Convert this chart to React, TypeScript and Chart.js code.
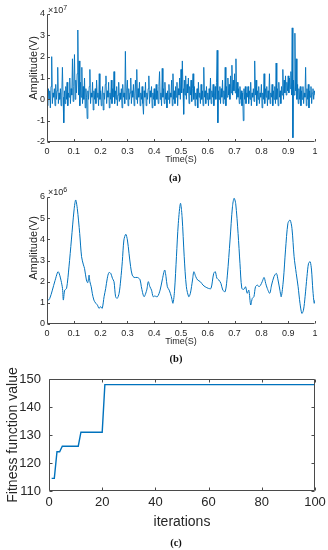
import React, { useEffect, useRef } from "react";
import { Chart, registerables } from "chart.js";

Chart.register(...registerables);

const BLUE = "#0072BD";
const AXIS = "#4a4a4a";
const TEXT = "#262626";
const SANS = "'Liberation Sans', Arial, Helvetica, sans-serif";
const SERIF = "'Liberation Serif', 'Times New Roman', serif";

// ---------- (a) raw vibration signal, amplitude in units of 1e7 V, sampled every 0.0025 s ----------
const sampleStepA = 0.0025;
const amplitudeA = [
  0.3, -0.3, 0.5, 0.0, 0.4, -0.4, 0.6, 2.0, -0.2, 0.3, 0.1, 0.5, -0.3, 0.7, 0.0, 0.4, 1.5, -0.2, 0.3, 0.0,
  0.5, -0.3, 0.2, 1.5, 0.1, -1.1, 0.4, -0.2, 0.6, 0.0, 0.8, -0.3, 0.3, 0.1, 1.0, -0.2, 0.5, 0.2, 1.9, -0.1,
  0.6, 2.1, 0.0, 0.9, 0.3, 1.2, 3.25, 0.2, 1.8, -0.3, 0.8, 0.1, 1.5, -0.2, 0.6, 0.0, 1.0, -0.4, 0.5, 0.1,
  -0.9, 0.4, 0.0, 0.6, 1.4, -0.2, 0.3, 0.1, 0.8, -0.5, 0.4, 0.0, 0.5, -0.2, 0.9, 0.1, 0.3, -0.3, 1.2, 0.0,
  0.4, -0.3, 0.2, 0.6, -0.5, 0.3, 0.0, 0.7, 1.1, -0.2, 0.4, 0.1, 0.8, -0.4, 0.3, 0.0, 0.9, -0.2, 0.5, 0.1,
  1.3, -0.2, 0.4, 0.0, 0.6, -0.3, 0.2, 0.8, -0.1, 0.3, 0.0, 0.5, -0.4, 0.7, 0.1, 0.3, -0.2, 2.25, 0.0, 0.4,
  0.9, -0.3, 0.5, 0.0, 0.3, 1.0, -0.2, 0.4, 0.1, 0.7, -0.3, 0.2, 0.9, 0.0, 1.4, -0.2, 0.5, 0.1, 0.8, -0.3,
  0.3, 0.0, 0.6, -0.2, -0.7, 0.4, 0.1, 0.8, -0.3, 0.3, 0.0, 0.5, 1.1, -0.2, 0.4, 0.1, 0.6, -0.4, 0.3, 0.0,
  0.5, -0.3, 0.2, 0.7, 0.0, 0.4, -0.2, 0.6, 1.3, 0.0, 0.3, -0.3, 1.45, 0.1, 0.5, -0.2, 0.8, 0.0, 0.3, -0.4,
  0.4, 0.0, 0.7, -0.2, 0.3, 0.1, 0.9, -0.3, 1.2, 0.0, 0.4, -0.2, 0.6, 0.1, 0.8, -0.3, 0.5, 0.2, 1.0, 0.0,
  1.4, 0.3, 1.8, 0.5, -0.7, 0.9, 0.2, 1.1, 0.0, 0.7, 0.3, 1.0, -0.2, 0.6, 0.2, 0.9, -0.1, 0.5, 1.2, 0.0,
  0.6, -0.3, 0.3, 0.0, 0.5, -0.4, 0.8, 0.1, 0.3, -0.2, 0.7, 0.0, 0.4, -0.3, 1.5, 0.1, 0.4, -0.2, 0.6, 0.0,
  0.3, -0.3, 0.5, 0.0, 1.0, -0.2, 0.4, 0.1, 0.7, -0.3, 0.2, 0.6, 0.0, 0.8, 2.3, -1.1, 0.4, 0.0, 0.6, -0.2,
  0.5, 0.1, 0.9, -0.2, 0.4, 0.0, 1.5, -0.3, 0.6, 0.1, 1.0, 0.2, 0.7, 0.0, 1.1, 0.3, 1.6, 0.2, 0.9, 0.4,
  1.2, 0.3, 1.9, 0.0, 0.8, 0.1, 0.5, -0.2, 0.6, 0.0, 0.4, -0.3, 0.3, -1.0, 0.5, 0.0, 0.6, -0.2, 0.3, 0.1,
  0.6, -0.2, 0.4, 0.0, 0.8, -0.3, 0.3, 0.1, 0.5, -0.1, 1.8, 0.2, 0.9, -0.3, 0.4, 0.0, 0.6, -0.2, 0.3, 0.1,
  0.7, -0.4, 0.3, 0.0, 1.2, -0.2, 0.5, 0.1, 0.6, -0.3, 0.4, 0.0, 1.2, -0.2, 0.3, 0.1, 0.7, -0.3, 0.4, 0.0,
  0.6, -0.2, 1.7, 0.0, 0.5, -0.3, 0.8, 0.1, 0.4, -0.2, 0.6, 0.2, 1.4, 0.0, 0.9, 0.3, 1.1, 0.2, 0.8, 0.4,
  1.1, 0.3, 1.0, 0.5, 1.3, 0.2, 3.35, -1.8, 0.9, 0.2, 3.1, 0.4, 1.9, 0.0, 0.7, -0.2, 0.5, 0.0, 0.6, -0.3,
  0.4, 0.0, 0.6, -0.2, 0.3, 0.1, 1.5, -0.3, 0.5, 0.0, 0.7, -0.4, 0.4, 0.1, 0.6, -0.2, 0.3, 0.5, 0.0, 0.4,
  0.2,
];

// ---------- (b) envelope signal, amplitude in units of 1e6 V ----------
const timeB = [
  0, 0.01, 0.02, 0.03, 0.042, 0.057, 0.061, 0.066, 0.073, 0.082,
  0.091, 0.101, 0.107, 0.113, 0.122, 0.129, 0.136, 0.14, 0.147, 0.152,
  0.157, 0.16, 0.165, 0.169, 0.175, 0.182, 0.188, 0.194, 0.2, 0.206,
  0.213, 0.219, 0.225, 0.231, 0.238, 0.244, 0.25, 0.256, 0.262, 0.269,
  0.275, 0.281, 0.287, 0.294, 0.3, 0.306, 0.312, 0.318, 0.325, 0.337,
  0.347, 0.352, 0.362, 0.372, 0.378, 0.384, 0.39, 0.396, 0.402, 0.412,
  0.422, 0.43, 0.439, 0.444, 0.449, 0.456, 0.464, 0.47, 0.476, 0.483,
  0.49, 0.498, 0.504, 0.512, 0.52, 0.529, 0.535, 0.543, 0.548, 0.555,
  0.562, 0.572, 0.582, 0.59, 0.603, 0.612, 0.622, 0.628, 0.634, 0.641,
  0.649, 0.656, 0.665, 0.673, 0.683, 0.692, 0.698, 0.704, 0.713, 0.72,
  0.727, 0.735, 0.741, 0.747, 0.753, 0.76, 0.766, 0.772, 0.778, 0.785,
  0.791, 0.797, 0.803, 0.81, 0.816, 0.822, 0.831, 0.838, 0.847, 0.856,
  0.862, 0.869, 0.874, 0.882, 0.89, 0.899, 0.907, 0.914, 0.922, 0.93,
  0.937, 0.944, 0.951, 0.957, 0.963, 0.97, 0.976, 0.982, 0.987, 0.992,
  0.997, 1.0,
];
const amplitudeB = [
  1.06, 1.2, 1.6, 2.05, 2.47, 1.76, 1.13, 1.6, 1.68, 2.7,
  3.97, 5.39, 5.86, 5.46, 4.28, 3.18, 2.79, 2.63, 2.08, 1.95,
  2.31, 2.0, 1.76, 1.45, 1.13, 0.98, 0.9, 0.74, 0.82, 0.74,
  1.29, 1.68, 2.16, 2.43, 2.39, 2.16, 2.0, 1.29, 1.21, 1.45,
  2.08, 2.94, 3.97, 4.24, 3.97, 3.34, 2.71, 2.31, 2.2, 2.2,
  2.1, 1.76, 1.29, 1.6, 2.0, 1.76, 1.6, 1.29, 1.32, 1.29,
  1.6, 2.08, 2.55, 2.24, 1.76, 1.6, 1.29, 0.98, 1.6, 3.18,
  4.76, 5.7, 5.07, 3.18, 1.76, 1.29, 1.45, 2.08, 2.47, 2.24,
  2.08, 2.0, 1.84, 1.76, 1.68, 1.68, 2.39, 2.47, 2.16, 2.08,
  1.92, 1.6, 1.53, 2.31, 3.97, 5.54, 5.94, 5.7, 4.28, 2.87,
  1.68, 1.64, 1.76, 1.45, 1.6, 0.9, 1.21, 1.29, 1.76, 1.84,
  1.76, 1.84, 2.0, 2.2, 1.92, 1.68, 1.45, 1.84, 2.24, 2.39,
  2.08, 1.6, 1.29, 2.08, 3.5, 4.76, 4.91, 4.52, 3.18, 2.39,
  1.76, 0.98, 0.5, 0.66, 1.29, 2.24, 2.87, 2.94, 2.55, 1.6,
  0.98, 1.13,
];

// ---------- (c) optimisation convergence ----------
const iterations = [1, 2, 3, 4, 5, 11, 12, 20, 21, 100];
const fitness = [114.5, 114.5, 124, 124, 126, 126, 131, 131, 148, 148];

// axis ranges [min, max, step]
const timeRange = [0, 1, 0.1];
const ampRangeA = [-2, 4, 1];
const ampRangeB = [0, 6, 1];
const iterRange = [0, 100, 20];
const fitRange = [110, 150, 10];

const framePlugin = {
  id: "frame",
  afterDatasetsDraw(chart: any, _args: any, opts: any) {
    const { ctx, chartArea: a } = chart;
    const xs = chart.scales.x;
    const ys = chart.scales.y;
    const L = opts.tickLen ?? 3;
    const l = Math.round(a.left) + 0.5;
    const r = Math.round(a.right) - 0.5;
    const t = Math.round(a.top) + 0.5;
    const b = Math.round(a.bottom) - 0.5;
    ctx.save();
    ctx.strokeStyle = opts.color || AXIS;
    ctx.lineWidth = 1;
    ctx.beginPath();
    ctx.moveTo(l, t);
    ctx.lineTo(l, b);
    ctx.lineTo(r, b);
    if (opts.box) {
      ctx.lineTo(r, t);
      ctx.lineTo(l, t);
    }
    xs.ticks.forEach((tk: any) => {
      const px = Math.round(xs.getPixelForValue(tk.value)) + 0.5;
      ctx.moveTo(px, b);
      ctx.lineTo(px, b - L);
      if (opts.box) {
        ctx.moveTo(px, t);
        ctx.lineTo(px, t + L);
      }
    });
    ys.ticks.forEach((tk: any) => {
      const py = Math.round(ys.getPixelForValue(tk.value)) + 0.5;
      ctx.moveTo(l, py);
      ctx.lineTo(l + L, py);
      if (opts.box) {
        ctx.moveTo(r, py);
        ctx.lineTo(r - L, py);
      }
    });
    ctx.stroke();
    ctx.restore();
  },
};

function makeConfig(p: any) {
  return {
    type: "line",
    data: {
      datasets: [
        {
          data: p.data,
          borderColor: BLUE,
          borderWidth: p.lineWidth,
          pointRadius: 0,
          tension: p.tension,
          fill: false,
        },
      ],
    },
    options: {
      animation: false,
      responsive: false,
      devicePixelRatio: 1,
      layout: { padding: { top: p.padTop, right: p.padRight, left: 0, bottom: 0 } },
      plugins: {
        legend: { display: false },
        tooltip: { enabled: false },
        frame: { box: p.box, tickLen: p.tickLen, color: AXIS },
      },
      scales: {
        x: {
          type: "linear",
          min: p.xRange[0],
          max: p.xRange[1],
          grid: { display: false, drawTicks: false },
          border: { display: false },
          ticks: {
            stepSize: p.xRange[2],
            autoSkip: false,
            maxRotation: 0,
            padding: p.xTickPad,
            color: TEXT,
            font: { family: SANS, size: p.tickSize },
            callback: (v: number) => String(Math.round(v * 10) / 10),
          },
          title: {
            display: !!p.xTitle,
            text: p.xTitle,
            color: TEXT,
            font: { family: SANS, size: p.xTitleSize },
            padding: { top: 0, bottom: p.xTitlePad },
          },
          afterFit: (s: any) => {
            s.height = p.xHeight;
            s.paddingLeft = 0;
            s.paddingRight = 0;
          },
        },
        y: {
          type: "linear",
          min: p.yRange[0],
          max: p.yRange[1],
          grid: { display: false, drawTicks: false },
          border: { display: false },
          ticks: {
            stepSize: p.yRange[2],
            autoSkip: false,
            padding: p.yTickPad,
            color: TEXT,
            font: { family: SANS, size: p.tickSize },
            callback: (v: number) => String(Math.round(v * 10) / 10),
          },
          title: {
            display: !!p.yTitle,
            text: p.yTitle,
            color: TEXT,
            font: { family: SANS, size: p.yTitleSize },
            padding: { top: p.yTitlePad, bottom: 0 },
          },
          afterFit: (s: any) => {
            s.width = p.yWidth;
            s.paddingTop = 0;
            s.paddingBottom = 0;
          },
        },
      },
    },
    plugins: [framePlugin],
  };
}

function ChartCanvas({ config, top, height }: any) {
  const ref = useRef<HTMLCanvasElement | null>(null);
  useEffect(() => {
    const chart = new Chart(ref.current as HTMLCanvasElement, config);
    return () => chart.destroy();
  }, []);
  return (
    <canvas
      ref={ref}
      width={328}
      height={height}
      style={{ position: "absolute", left: 0, top, width: 328, height }}
    />
  );
}

const dataA = amplitudeA.map((v, i) => ({ x: i * sampleStepA, y: v }));
const dataB = timeB.map((t, i) => ({ x: t, y: amplitudeB[i] }));
const dataC = iterations.map((it, i) => ({ x: it, y: fitness[i] }));

const configA = makeConfig({
  data: dataA, lineWidth: 0.9, tension: 0,
  xRange: timeRange, yRange: ampRangeA,
  padTop: 14, padRight: 13, yWidth: 47, xHeight: 30,
  tickSize: 9, xTickPad: 4, yTickPad: 2,
  xTitle: "Time(S)", xTitleSize: 9, xTitlePad: 6.6,
  box: false, tickLen: 2.5,
});
const configB = makeConfig({
  data: dataB, lineWidth: 1, tension: 0.3,
  xRange: timeRange, yRange: ampRangeB,
  padTop: 17, padRight: 13, yWidth: 47, xHeight: 28,
  tickSize: 9, xTickPad: 4, yTickPad: 2,
  xTitle: "Time(S)", xTitleSize: 9, xTitlePad: 4.6,
  box: false, tickLen: 2.5,
});
const configC = makeConfig({
  data: dataC, lineWidth: 1.4, tension: 0,
  xRange: iterRange, yRange: fitRange,
  padTop: 19, padRight: 13, yWidth: 49, xHeight: 44,
  tickSize: 13, xTickPad: 4, yTickPad: 8,
  xTitle: "iterations", xTitleSize: 14, xTitlePad: 4.6,
  yTitle: "Fitness function value", yTitleSize: 14, yTitlePad: 4.6,
  box: true, tickLen: 3,
});

const rotTitle = (text: string, cx: number, cy: number) => (
  <div
    style={{
      position: "absolute", left: cx, top: cy,
      transform: "translate(-50%,-50%) rotate(-90deg)",
      fontFamily: SANS, fontSize: 11, lineHeight: "11px",
      color: TEXT, whiteSpace: "nowrap",
    }}
  >
    {text}
  </div>
);

const exponent = (p: string, x: number, y: number) => (
  <div
    style={{
      position: "absolute", left: x, top: y,
      fontFamily: SANS, fontSize: 9, lineHeight: "9px", color: TEXT, whiteSpace: "nowrap",
    }}
  >
    ×10<span style={{ fontSize: 7, position: "relative", top: -3 }}>{p}</span>
  </div>
);

const caption = (text: string, cx: number, cy: number) => (
  <div
    style={{
      position: "absolute", left: cx, top: cy,
      transform: "translate(-50%,-50%)",
      fontFamily: SERIF, fontWeight: "bold", fontSize: 10.5, lineHeight: "11px",
      color: "#111", whiteSpace: "nowrap",
    }}
  >
    {text}
  </div>
);

export default function App() {
  return (
    <div
      style={{
        position: "absolute", left: 0, top: 0, width: 328, height: 550,
        background: "#fff", overflow: "hidden",
      }}
    >
      <ChartCanvas config={configA} top={0} height={172} />
      <ChartCanvas config={configB} top={180} height={172} />
      <ChartCanvas config={configC} top={360} height={175} />
      {exponent("7", 48, 6)}
      {exponent("6", 48, 188)}
      {rotTitle("Amplitude(V)", 32.7, 67.5)}
      {rotTitle("Amplitude(V)", 32.7, 248)}
      {caption("(a)", 175, 177)}
      {caption("(b)", 176, 358)}
      {caption("(c)", 176, 542)}
    </div>
  );
}
